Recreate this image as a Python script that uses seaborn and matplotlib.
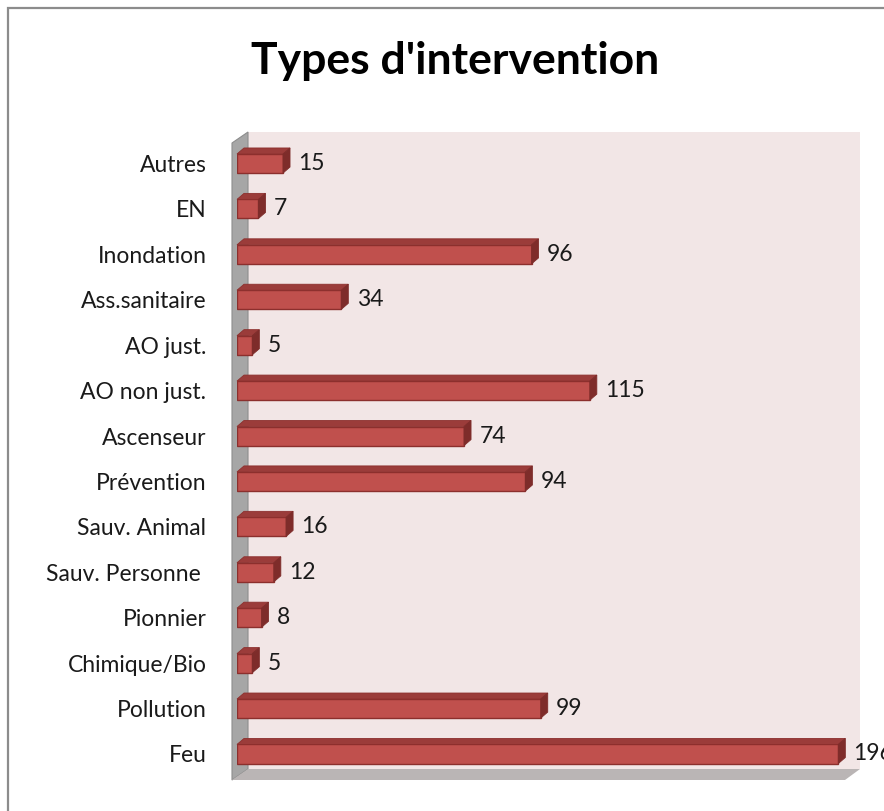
import matplotlib
matplotlib.use("Agg")
import matplotlib.pyplot as plt
import seaborn as sns
import pandas as pd
from matplotlib.patches import Polygon, Rectangle

categories = ["Autres", "EN", "Inondation", "Ass.sanitaire", "AO just.", "AO non just.",
              "Ascenseur", "Prévention", "Sauv. Animal", "Sauv. Personne ", "Pionnier",
              "Chimique/Bio", "Pollution", "Feu"]
counts = [15, 7, 96, 34, 5, 115, 74, 94, 16, 12, 8, 5, 99, 196]

W, H = 884, 811
PX_PER_UNIT = 3.068
ROW_PX = 45.4

sns.set_theme(style="white")
plt.rcParams['font.family'] = ['Lato', 'DejaVu Sans']

fig = plt.figure(figsize=(W / 100, H / 100), dpi=100)
fig.patch.set_facecolor("white")


def fx(x):
    return x / W


def fy(y):
    return 1 - y / H


def poly(pts, **kw):
    fig.add_artist(Polygon([(fx(x), fy(y)) for x, y in pts], closed=True,
                           transform=fig.transFigure, zorder=-1, **kw))


# chart frame (runs off the right/bottom edge)
fig.add_artist(Rectangle((fx(8), -0.2), 1.5, fy(8) + 0.2, transform=fig.transFigure,
                         facecolor="none", edgecolor="#8c8c8c", lw=1.6, zorder=-2))

# 3d walls
poly([(248, 132), (860, 132), (860, 769), (248, 769)], facecolor="#F2E6E6", edgecolor="none")
poly([(232, 143), (248, 132), (248, 769), (232, 780)], facecolor="#A6A6A6", edgecolor="#8d8d8d", lw=0.8)
poly([(232, 780), (248, 769), (860, 769), (845, 780)], facecolor="#BAB5B5", edgecolor="none")

top, bottom = 163.5 - ROW_PX / 2, 754 + ROW_PX / 2
ax = fig.add_axes([fx(237), fy(bottom), (845 - 237) / W, (bottom - top) / H])
ax.patch.set_alpha(0)

df = pd.DataFrame({"type": categories, "count": counts})
sns.barplot(data=df, y="type", x="count", orient="h", color="#C0504D", saturation=1,
            width=0.42, edgecolor="#8C2F2D", linewidth=1, ax=ax)
ax.set_xlim(0, 608 / PX_PER_UNIT)
ax.set_ylim(len(categories) - 0.5, -0.5)

# fake depth on each bar
dx = 7 / PX_PER_UNIT
dy = 6 / ROW_PX
for p in list(ax.patches):
    x0, y0, w, h = p.get_x(), p.get_y(), p.get_width(), p.get_height()
    ax.add_patch(Polygon([(x0, y0), (x0 + w, y0), (x0 + w + dx, y0 - dy), (x0 + dx, y0 - dy)],
                         closed=True, facecolor="#9B3C3A", edgecolor="#8C2F2D", lw=0.6, clip_on=False))
    ax.add_patch(Polygon([(x0 + w, y0), (x0 + w + dx, y0 - dy), (x0 + w + dx, y0 + h - dy), (x0 + w, y0 + h)],
                         closed=True, facecolor="#7E2C2A", edgecolor="#7E2C2A", lw=0.6, clip_on=False))

ax.bar_label(ax.containers[0], padding=11, fontsize=16.5, color="#1a1a1a")

ax.set_xticks([])
ax.set_xlabel("")
ax.set_ylabel("")
ax.tick_params(axis="y", length=0, pad=22, labelsize=16.5, labelcolor="#1a1a1a")
for s in ax.spines.values():
    s.set_visible(False)

fig.text(fx(455), fy(61), "Types d'intervention", ha="center", va="center",
         fontsize=32, fontweight="bold", color="#000000")

fig.savefig("out.png", dpi=100)
